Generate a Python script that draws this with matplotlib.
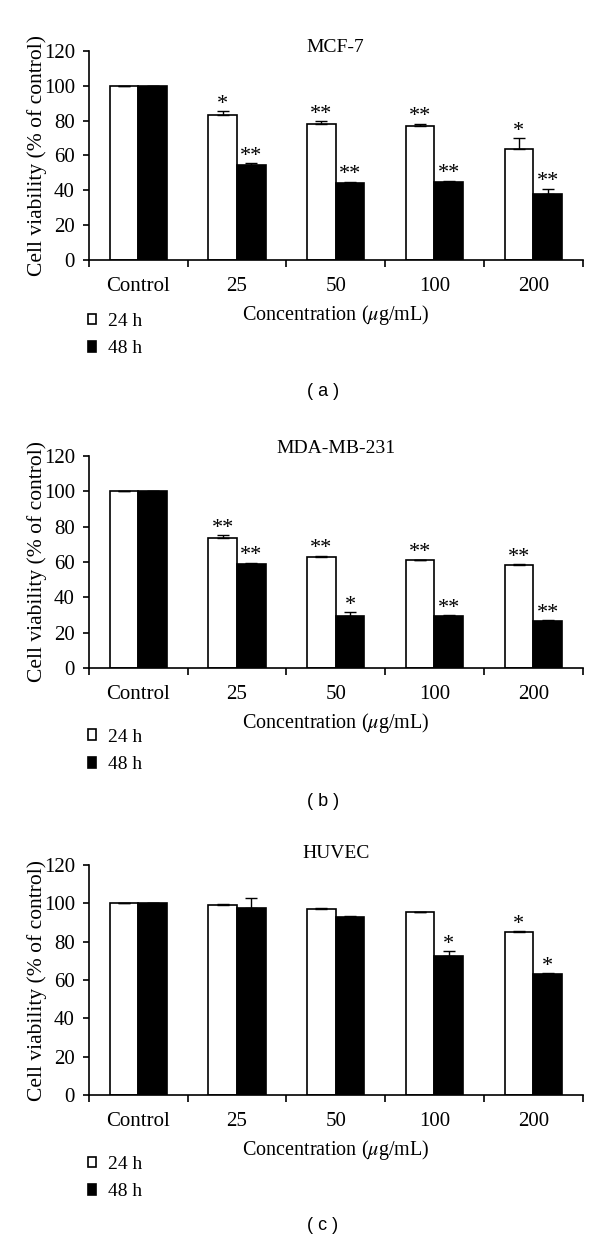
import numpy as np
import matplotlib.pyplot as plt
from matplotlib.ticker import FixedLocator

plt.rcParams['font.family'] = 'Liberation Serif'
plt.rcParams['font.size'] = 14
plt.rcParams['mathtext.fontset'] = 'stix'

categories = ['Control', '25', '50', '100', '200']
titles = ['MCF-7', 'MDA-MB-231', 'HUVEC']
panel_tags = ['( a )', '( b )', '( c )']

# MCF-7
mcf_24 = [100, 83, 78, 77, 64]
mcf_24_err = [0, 2.5, 1.8, 1.2, 6]
mcf_48 = [100, 54.5, 44, 45, 38]
mcf_48_err = [0, 1, 1, 0.5, 3]
mcf_24_sig = ['', '*', '**', '**', '*']
mcf_48_sig = ['', '**', '**', '**', '**']

# MDA-MB-231
mda_24 = [100, 73.5, 63, 61, 58.3]
mda_24_err = [0, 1.5, 0.6, 0.4, 0.5]
mda_48 = [100, 59, 29.5, 29.5, 26.4]
mda_48_err = [0, 0.7, 2, 0.5, 0.7]
mda_24_sig = ['', '**', '**', '**', '**']
mda_48_sig = ['', '**', '*', '**', '**']

# HUVEC
huv_24 = [100, 99.3, 97.3, 95.3, 84.9]
huv_24_err = [0, 0.6, 0.3, 0.4, 0.5]
huv_48 = [100, 97.5, 92.7, 72.6, 63.2]
huv_48_err = [0, 5.5, 1, 2.4, 0.6]
huv_24_sig = ['', '', '', '', '*']
huv_48_sig = ['', '', '', '*', '*']

panels = [
    (mcf_24, mcf_24_err, mcf_48, mcf_48_err, mcf_24_sig, mcf_48_sig),
    (mda_24, mda_24_err, mda_48, mda_48_err, mda_24_sig, mda_48_sig),
    (huv_24, huv_24_err, huv_48, huv_48_err, huv_24_sig, huv_48_sig),
]

# axes boxes in figure fraction: left, bottom, width, height
boxes = [
    [0.148, 0.7905, 0.823, 0.1684],
    [0.148, 0.4617, 0.823, 0.1709],
    [0.148, 0.1176, 0.823, 0.1853],
]
title_y = [1.019, 1.033, 1.052]
legend_y = [1 - 335 / 1241, 1 - 751 / 1241, 1 - 1178 / 1241]
tag_y = [1 - 392 / 1241, 1 - 801 / 1241, 1 - 1226 / 1241]

fig = plt.figure(figsize=(6, 12.41), dpi=100)
x = np.arange(len(categories))
w = 0.29

for i, (v24, e24, v48, e48, s24, s48) in enumerate(panels):
    ax = fig.add_axes(boxes[i])
    b1 = ax.bar(x - w / 2, v24, w, color='white', edgecolor='black', linewidth=1.2,
                yerr=[np.zeros(len(e24)), e24], capsize=4,
                error_kw=dict(elinewidth=1, capthick=1, ecolor='black'), label='24 h')
    b2 = ax.bar(x + w / 2, v48, w, color='black', edgecolor='black', linewidth=1.2,
                yerr=[np.zeros(len(e48)), e48], capsize=4,
                error_kw=dict(elinewidth=1, capthick=1, ecolor='black'), label='48 h')
    for j in range(len(categories)):
        if s24[j]:
            ax.text(x[j] - w / 2, v24[j] + e24[j] - 1.5, s24[j], ha='center', va='bottom', fontsize=16)
        if s48[j]:
            ax.text(x[j] + w / 2, v48[j] + e48[j] - 1.5, s48[j], ha='center', va='bottom', fontsize=16)

    ax.set_xlim(-0.5, len(categories) - 0.5)
    ax.set_ylim(0, 120)
    ax.set_yticks(np.arange(0, 121, 20))
    ax.set_xticks(x)
    ax.set_xticklabels(categories, fontsize=15)
    ax.xaxis.set_minor_locator(FixedLocator(np.arange(-0.5, len(categories), 1)))
    ax.tick_params(axis='x', which='major', length=0, pad=12)
    ax.tick_params(axis='x', which='minor', length=5, width=1.2, direction='out')
    ax.tick_params(axis='y', length=4, width=1.2, direction='out', pad=6, labelsize=15)
    for s in ['top', 'right']:
        ax.spines[s].set_visible(False)
    for s in ['left', 'bottom']:
        ax.spines[s].set_linewidth(1.2)
    ax.set_xlabel('Concentration ($\\mu$g/mL)', labelpad=5, fontsize=14.5)
    ax.set_ylabel('Cell viability (% of control)', labelpad=-2, fontsize=15.5)
    ax.text(0.5, title_y[i], titles[i], transform=ax.transAxes,
            ha='center', va='center', fontsize=14)

    fig.legend(handles=[b1, b2], labels=['24 h', '48 h'], loc='center left',
               bbox_to_anchor=(0.117, legend_y[i]), frameon=False, fontsize=14,
               handlelength=0.45, handleheight=0.45, handletextpad=0.6, labelspacing=0.55)
    fig.text(0.538, tag_y[i], panel_tags[i], ha='center', va='center',
             family='Liberation Sans', fontsize=13)

fig.savefig('out.png', dpi=100)
